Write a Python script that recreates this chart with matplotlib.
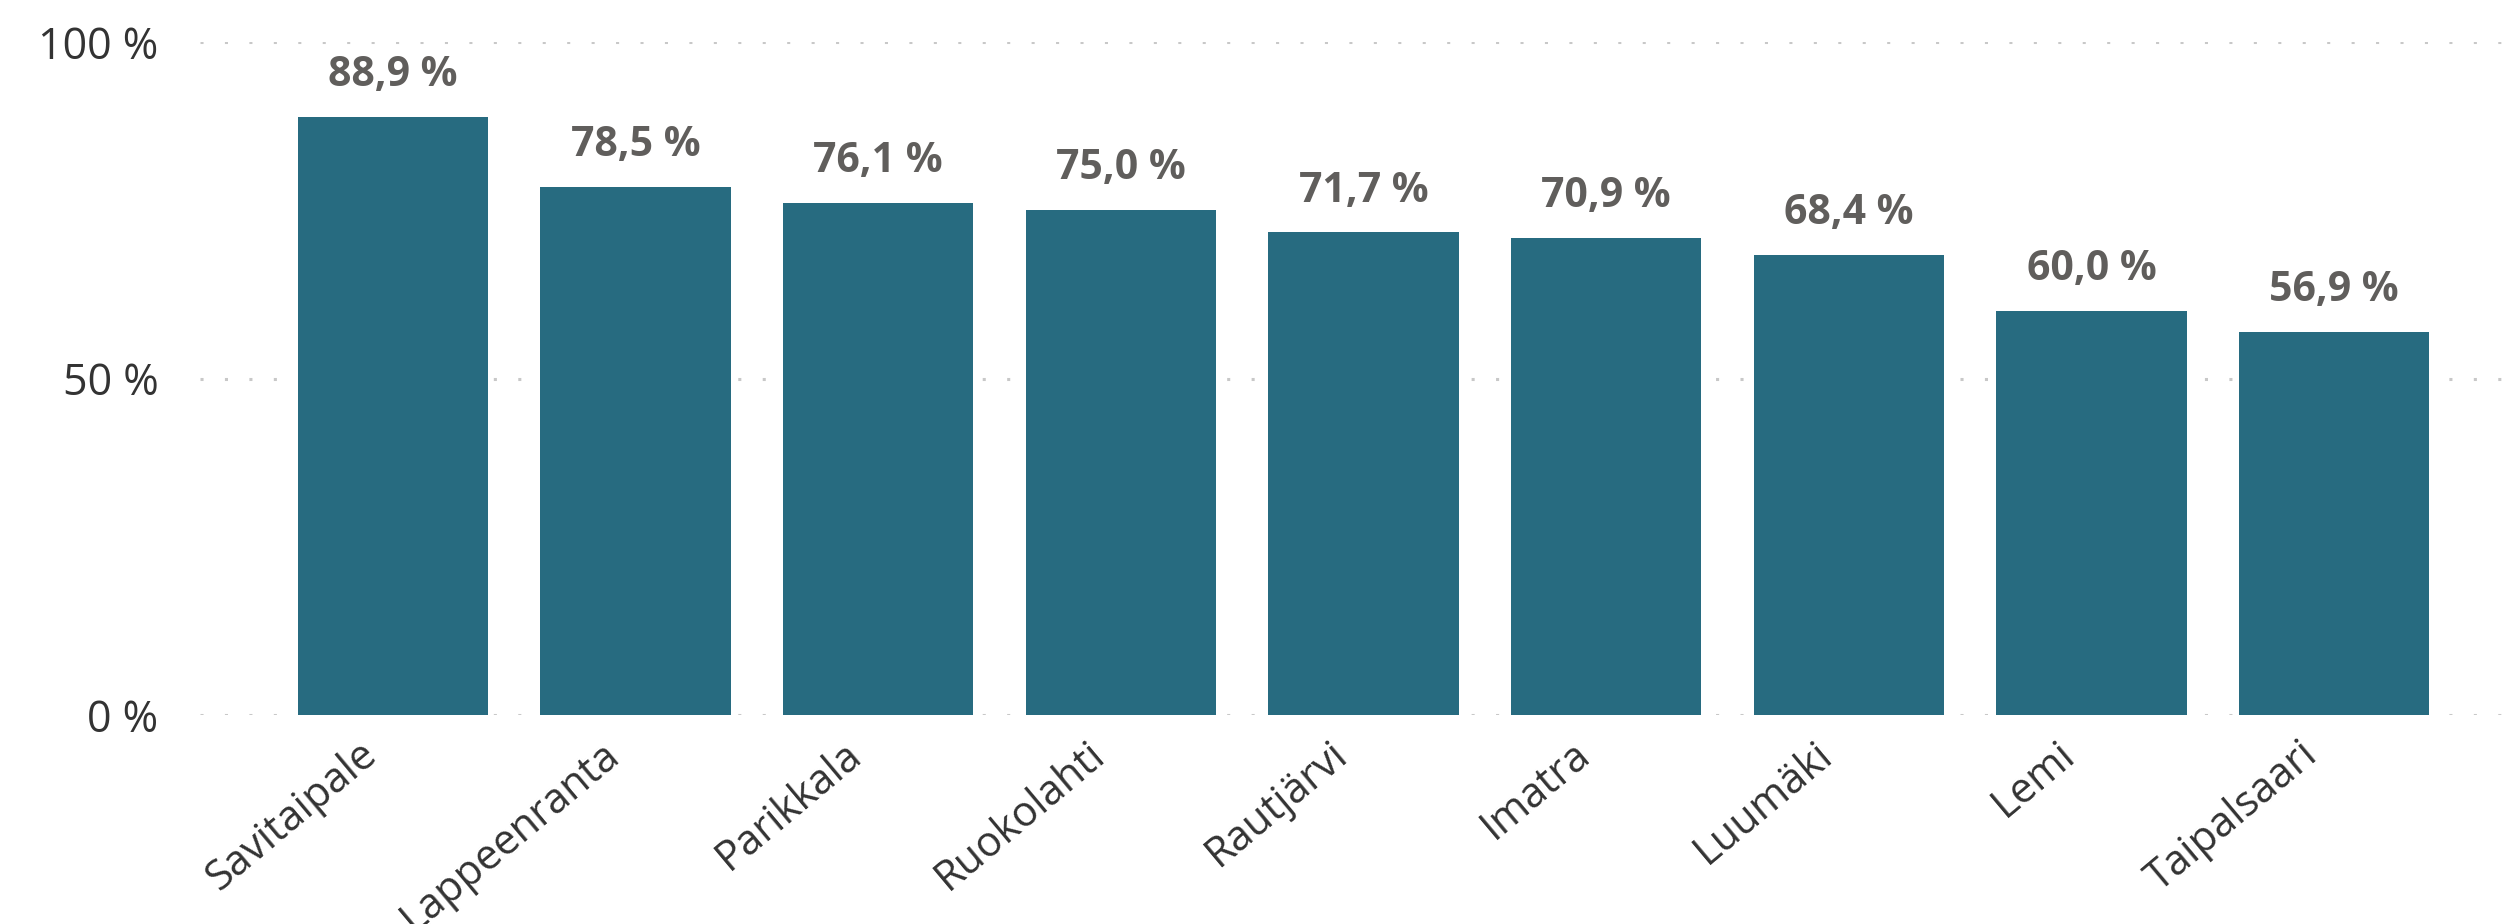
import matplotlib
matplotlib.use("Agg")
import matplotlib.pyplot as plt
import matplotlib.transforms as mtransforms

categories = ["Savitaipale", "Lappeenranta", "Parikkala", "Ruokolahti", "Rautjärvi",
              "Imatra", "Luumäki", "Lemi", "Taipalsaari"]
values = [88.9, 78.5, 76.1, 75.0, 71.7, 70.9, 68.4, 60.0, 56.9]
yticks = [0, 50, 100]
ytick_labels = ["0 %", "50 %", "100 %"]

plt.rcParams['font.family'] = ['Open Sans', 'DejaVu Sans']

W, H = 2514, 924
fig = plt.figure(figsize=(W / 100, H / 100), dpi=100)
left, right = 200 / W, 2504 / W
bottom, top = 1 - 715 / H, 1 - 42 / H
ax = fig.add_axes([left, bottom, right - left, top - bottom])

bar_color = "#276B80"
x = list(range(len(categories)))

for y in yticks:
    ax.axhline(y, color="#C8C8C8", linewidth=2.2, linestyle=(0, (1, 7)),
               dash_capstyle="butt", zorder=1)

bars = ax.bar(x, values, width=0.785, color=bar_color, zorder=2)

for xi, v in zip(x, values):
    ax.annotate(f"{v:.1f} %".replace(".", ","), xy=(xi, v), xytext=(0, 15),
                textcoords="offset points", ha="center", va="bottom",
                fontsize=29.5, fontweight="bold", color="#605E5C")

ax.set_xlim(-0.795, 8.70)
ax.set_ylim(0, 100)
ax.set_yticks(yticks)
ax.set_yticklabels(ytick_labels, fontsize=31, color="#333333")
ax.tick_params(axis="y", length=0, pad=30)
ax.set_xticks(x)
ax.set_xticklabels(categories, fontsize=30, color="#333333", rotation=40,
                   ha="right", va="top", rotation_mode="anchor")
ax.tick_params(axis="x", length=0, pad=13)
offset = mtransforms.ScaledTranslation(-25 / 72, 0, fig.dpi_scale_trans)
for lbl in ax.get_xticklabels():
    lbl.set_transform(lbl.get_transform() + offset)

for s in ax.spines.values():
    s.set_visible(False)

fig.savefig("out.png", dpi=100, facecolor="white")
